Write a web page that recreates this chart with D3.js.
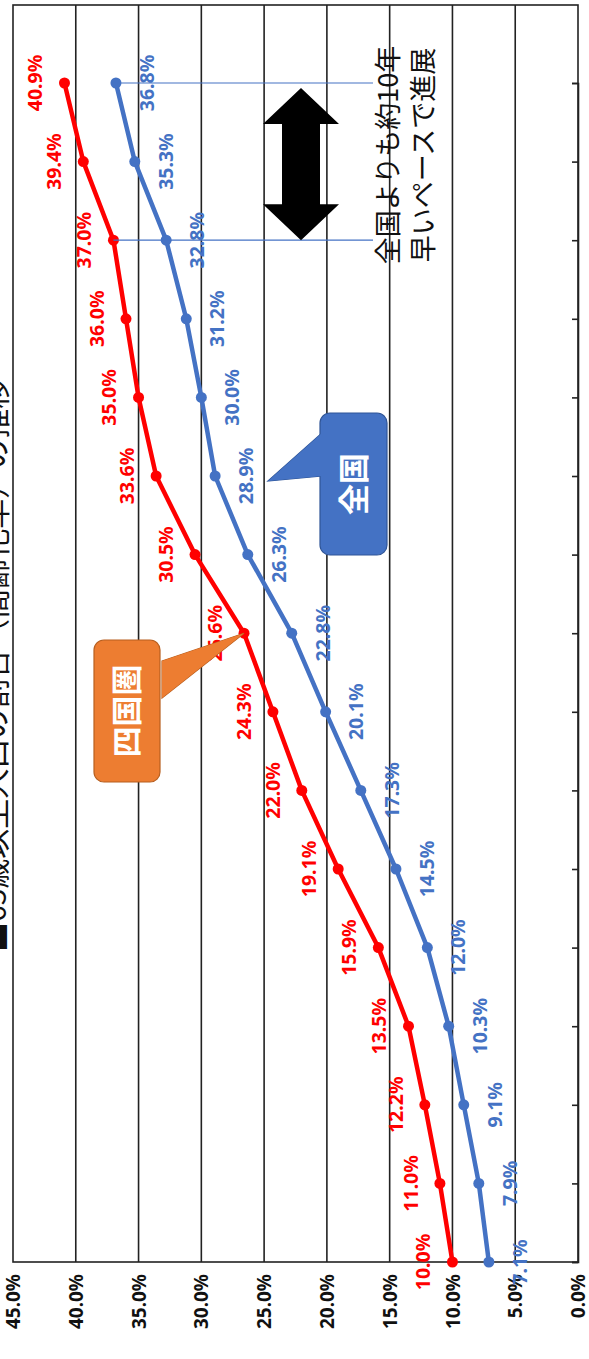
<!DOCTYPE html>
<html>
<head>
<meta charset="utf-8">
<script src="https://cdn.jsdelivr.net/npm/d3@7"></script>
<style>
  html, body { margin: 0; padding: 0; background: #fff; }
  svg { display: block; }
</style>
</head>
<body>
<svg id="chart" width="589" height="1359"></svg>
<script>
// Years (5-year steps) and aging rate (% of population aged 65+)
const categories = ["1970","1975","1980","1985","1990","1995","2000","2005",
                    "2010","2015","2020","2025","2030","2035","2040","2045"];
const shikoku  = [10.0, 11.0, 12.2, 13.5, 15.9, 19.1, 22.0, 24.3,
                  26.6, 30.5, 33.6, 35.0, 36.0, 37.0, 39.4, 40.9];
const national = [7.1, 7.9, 9.1, 10.3, 12.0, 14.5, 17.3, 20.1,
                  22.8, 26.3, 28.9, 30.0, 31.2, 32.8, 35.3, 36.8];
const valueTicks = [0, 5, 10, 15, 20, 25, 30, 35, 40, 45];

const svg = d3.select("#chart");
const JP = "'Noto Sans CJK JP', 'Noto Sans', sans-serif";
const NUM = "'Noto Sans', 'Open Sans', sans-serif";

// The chart is laid out turned a quarter turn: time runs upward, value runs leftward.
const plot = { left: 13, right: 578, top: 5, bottom: 1262 };

const y = d3.scalePoint().domain(categories).range([plot.bottom, 83]);
const x = d3.scaleLinear().domain([0, 45]).range([plot.right, plot.left]);

// Title (runs up the left edge)
svg.append("text")
  .attr("transform", `translate(6,952) rotate(-90)`)
  .attr("font-family", JP).attr("font-size", 30).attr("fill", "#111")
  .text("■65歳以上人口の割合（高齢化率）の推移");

// Gridlines for the value axis
svg.append("g")
  .selectAll("line").data(valueTicks.filter(v => v > 0 && v < 45)).join("line")
  .attr("x1", d => x(d)).attr("x2", d => x(d))
  .attr("y1", plot.top).attr("y2", plot.bottom)
  .attr("stroke", "#222").attr("stroke-width", 1.6);

// Plot frame
svg.append("rect")
  .attr("x", plot.left).attr("y", plot.top)
  .attr("width", plot.right - plot.left).attr("height", plot.bottom - plot.top)
  .attr("fill", "none").attr("stroke", "#222").attr("stroke-width", 1.6);

// Category axis (ticks inside, along the zero line)
const catAxis = svg.append("g")
  .attr("transform", `translate(${plot.right},0)`)
  .call(d3.axisLeft(y).tickSize(6).tickFormat(""));
catAxis.select(".domain").attr("stroke", "#222").attr("stroke-width", 1.6);
catAxis.selectAll(".tick line").attr("stroke", "#222").attr("stroke-width", 1.6);

// Value axis labels
const valAxis = svg.append("g")
  .attr("transform", `translate(0,${plot.bottom})`)
  .call(d3.axisBottom(x).tickValues(valueTicks).tickSize(0).tickFormat(d => d3.format(".1f")(d) + "%"));
valAxis.select(".domain").remove();
valAxis.selectAll(".tick text")
  .attr("transform", "rotate(-90)")
  .attr("x", -12).attr("y", 0).attr("dy", "0.35em")
  .attr("text-anchor", "end")
  .attr("font-family", NUM).attr("font-size", 19).attr("font-weight", "bold")
  .attr("fill", "#111");

// Series lines and markers
const series = [
  { name: "四国圏", values: shikoku,  color: "#ff0000", dx: -29 },
  { name: "全国",   values: national, color: "#4472c4", dx: 31 }
];
const line = d3.line().x(d => x(d.v)).y(d => y(d.c));

series.forEach(s => {
  const pts = s.values.map((v, i) => ({ v, c: categories[i] }));
  const g = svg.append("g");
  g.append("path").datum(pts)
    .attr("d", line).attr("fill", "none")
    .attr("stroke", s.color).attr("stroke-width", 4.5).attr("stroke-linejoin", "round");
  g.selectAll("circle").data(pts).join("circle")
    .attr("cx", d => x(d.v)).attr("cy", d => y(d.c)).attr("r", 5.5)
    .attr("fill", s.color);
  g.selectAll("text").data(pts).join("text")
    .attr("transform", d => `translate(${x(d.v) + s.dx},${y(d.c)}) rotate(-90)`)
    .attr("text-anchor", "middle").attr("dy", "0.35em")
    .attr("font-family", NUM).attr("font-size", 19.5).attr("font-weight", "bold")
    .attr("fill", s.color)
    .text(d => d.v.toFixed(1) + "%");
});

// Ten-year gap marker: guide lines, double arrow and note
const guideEnd = 373;
const gapTop = { c: "2045", v: national[15] };
const gapBot = { c: "2035", v: shikoku[13] };
svg.append("line")
  .attr("x1", x(gapTop.v)).attr("x2", guideEnd)
  .attr("y1", y(gapTop.c)).attr("y2", y(gapTop.c))
  .attr("stroke", "#4472c4").attr("stroke-width", 1.2);
svg.append("line")
  .attr("x1", x(gapBot.v)).attr("x2", guideEnd)
  .attr("y1", y(gapBot.c)).attr("y2", y(gapBot.c))
  .attr("stroke", "#4472c4").attr("stroke-width", 1.2);

const ax = 301, aTop = y(gapTop.c) + 5, aBot = y(gapBot.c), headW = 38, headL = 36, shaftW = 19;
svg.append("path")
  .attr("d", `M${ax},${aTop} L${ax + headW},${aTop + headL} L${ax + shaftW},${aTop + headL}
              L${ax + shaftW},${aBot - headL} L${ax + headW},${aBot - headL} L${ax},${aBot}
              L${ax - headW},${aBot - headL} L${ax - shaftW},${aBot - headL}
              L${ax - shaftW},${aTop + headL} L${ax - headW},${aTop + headL} Z`)
  .attr("fill", "#000");

const note = svg.append("text")
  .attr("font-family", JP).attr("font-size", 27).attr("fill", "#111")
  .attr("text-anchor", "middle");
note.append("tspan").attr("x", 0).attr("y", 0).text("全国よりも約10年");
note.append("tspan").attr("x", 0).attr("y", 35).text("早いペースで進展");
note.attr("transform", `translate(398,155) rotate(-90)`);

// Callouts
function callout(rx, ry, w, h, wedge, fill, stroke, label) {
  const g = svg.append("g");
  const wedgePath = `M${wedge[0][0]},${wedge[0][1]} L${wedge[1][0]},${wedge[1][1]} L${wedge[2][0]},${wedge[2][1]} Z`;
  g.append("path").attr("d", wedgePath)
    .attr("fill", fill).attr("stroke", stroke).attr("stroke-width", 1.2);
  g.append("rect").attr("x", rx).attr("y", ry).attr("width", w).attr("height", h)
    .attr("rx", 10).attr("fill", fill).attr("stroke", stroke).attr("stroke-width", 1.2);
  // hide the wedge's seam against the box
  g.append("path").attr("d", wedgePath).attr("fill", fill);
  g.append("text")
    .attr("transform", `translate(${rx + w / 2},${ry + h / 2}) rotate(-90)`)
    .attr("text-anchor", "middle").attr("dy", "0.36em")
    .attr("font-family", JP).attr("font-size", 31).attr("font-weight", "bold")
    .attr("fill", "#fff").text(label);
}
callout(94, 640, 66, 142,
  [[162, 661], [x(shikoku[8]), y(categories[8])], [162, 698]],
  "#ed7d31", "#b85f1f", "四国圏");
callout(320, 413, 67, 142,
  [[322, 433], [268, 481], [322, 476]],
  "#4472c4", "#2f5597", "全国");
</script>
</body>
</html>
